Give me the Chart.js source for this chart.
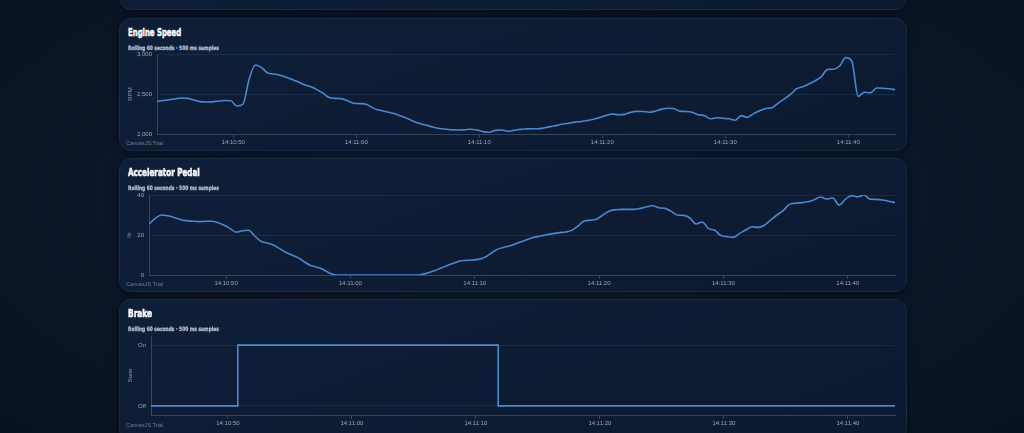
<!DOCTYPE html>
<html>
<head>
<meta charset="utf-8">
<script src="https://cdn.jsdelivr.net/npm/chart.js@4.4.1/dist/chart.umd.min.js"></script>
<style>
  html, body { margin: 0; padding: 0; }
  body {
    width: 1024px; height: 433px; overflow: hidden; position: relative;
    background: radial-gradient(ellipse at 50% 45%, #0f1d33 0%, #0b1628 55%, #08111f 100%);
    font-family: "Liberation Sans", Arial, sans-serif;
  }
  .card {
    position: absolute; left: 119px; width: 786px;
    background: linear-gradient(160deg, #0f1f38 0%, #0c1a30 100%);
    border: 1px solid #1a2a43; border-radius: 12px;
    box-shadow: 0 2px 8px rgba(0,0,0,0.35);
  }
  .card canvas { position: absolute; left: -1px; top: -1px; }
  .title {
    position: absolute; left: 8px; top: 7px; color: #f2f5fa;
    font-family: "Liberation Sans Narrow", "DejaVu Sans", sans-serif;
    font-stretch: condensed; font-weight: 900; font-size: 11px;
    -webkit-text-stroke: 0.6px #f2f5fa;
    transform-origin: 0 0; white-space: nowrap;
  }
  .sub {
    position: absolute; left: 8px; top: 25px; color: #b7c3d4;
    font-family: "Liberation Sans Narrow", "DejaVu Sans", sans-serif;
    font-stretch: condensed; font-weight: 700; font-size: 6px;
    -webkit-text-stroke: 0.25px #b7c3d4;
    transform-origin: 0 0; white-space: nowrap;
  }
  .trial {
    position: absolute; left: 6px; color: #6f7d92; font-size: 5.5px;
    white-space: nowrap;
  }
</style>
</head>
<body>
<div class="card" style="top:-120px;height:128px"></div>

<div class="card" style="top:18px;height:131px">
  <div class="title">Engine Speed</div>
  <div class="sub">Rolling 60 seconds · 500 ms samples</div>
  <div class="trial" style="top:121px">CanvasJS Trial</div>
  <canvas id="engineChart" width="788" height="132"></canvas>
</div>

<div class="card" style="top:158px;height:132px">
  <div class="title">Accelerator Pedal</div>
  <div class="sub">Rolling 60 seconds · 500 ms samples</div>
  <div class="trial" style="top:122px">CanvasJS Trial</div>
  <canvas id="accelChart" width="788" height="133"></canvas>
</div>

<div class="card" style="top:299px;height:140px">
  <div class="title">Brake</div>
  <div class="sub">Rolling 60 seconds · 500 ms samples</div>
  <div class="trial" style="top:122px">CanvasJS Trial</div>
  <canvas id="brakeChart" width="788" height="133"></canvas>
</div>

<script>
// sample timestamps: seconds after 14:10:00, one sample every 500 ms
const sampleStart = 43.8;
const sampleStep = 0.5;
const timeTicks = [50, 60, 70, 80, 90, 100];

const engineRpm = [
  2408, 2418, 2428, 2440, 2450, 2445, 2425, 2405, 2400, 2402,
  2412, 2418, 2415, 2350, 2375, 2690, 2862, 2830, 2762, 2750,
  2735, 2710, 2682, 2650, 2615, 2590, 2555, 2510, 2455, 2445,
  2442, 2415, 2385, 2380, 2372, 2330, 2300, 2285, 2265, 2245,
  2215, 2185, 2150, 2125, 2105, 2085, 2068, 2060, 2052, 2050,
  2052, 2060, 2050, 2030, 2022, 2045, 2050, 2035, 2045, 2058,
  2063, 2066, 2066, 2078, 2092, 2108, 2124, 2136, 2148, 2157,
  2168, 2185, 2205, 2230, 2250, 2240, 2245, 2270, 2283, 2282,
  2272, 2285, 2308, 2322, 2318, 2285, 2282, 2272, 2241, 2230,
  2190, 2204, 2196, 2190, 2172, 2230, 2210, 2255, 2290, 2318,
  2328, 2387, 2440, 2495, 2565, 2590, 2625, 2665, 2715, 2805,
  2810, 2850, 2955, 2908, 2470, 2522, 2515, 2575, 2572, 2565,
  2554
];

const acceleratorPct = [
  25.5, 28.3, 30.0, 29.6, 28.8, 27.8, 27.2, 26.9, 26.7, 26.8,
  26.9, 26.3, 25.0, 23.3, 21.4, 22.1, 22.4, 19.5, 16.9, 16.0,
  15.0, 13.2, 11.4, 10.0, 8.7, 6.5, 4.8, 3.9, 2.8, 1.0,
  0, 0, 0, 0, 0, 0, 0, 0, 0, 0,
  0, 0, 0, 0, 0.3, 1.2, 2.2, 3.5, 4.8, 5.9,
  7.0, 7.3, 7.5, 7.8, 8.8, 10.8, 12.8, 13.8, 14.5, 15.6,
  16.8, 17.9, 18.9, 19.5, 20.1, 20.7, 21.2, 21.5, 22.3, 24.5,
  27.0, 27.4, 27.9, 30.0, 31.9, 32.6, 32.8, 32.8, 32.8, 33.3,
  34.0, 34.6, 33.6, 33.3, 31.8, 30.0, 29.8, 28.5, 25.5, 26.5,
  23.2, 22.4, 19.7, 19.2, 18.8, 20.8, 22.5, 24.1, 23.8, 24.9,
  27.5, 30.0, 32.2, 35.3, 35.9, 36.2, 36.6, 37.6, 39.0, 38.0,
  38.5, 35.0, 37.8, 39.7, 39.1, 40.0, 37.9, 37.8, 37.5, 36.9,
  36.2
];

// 0 = Off, 1 = On
const brakeState = [
  0, 0, 0, 0, 0, 0, 0, 0, 0, 0,
  0, 0, 0, 0, 1, 1, 1, 1, 1, 1,
  1, 1, 1, 1, 1, 1, 1, 1, 1, 1,
  1, 1, 1, 1, 1, 1, 1, 1, 1, 1,
  1, 1, 1, 1, 1, 1, 1, 1, 1, 1,
  1, 1, 1, 1, 1, 1, 0, 0, 0, 0,
  0, 0, 0, 0, 0, 0, 0, 0, 0, 0,
  0, 0, 0, 0, 0, 0, 0, 0, 0, 0,
  0, 0, 0, 0, 0, 0, 0, 0, 0, 0,
  0, 0, 0, 0, 0, 0, 0, 0, 0, 0,
  0, 0, 0, 0, 0, 0, 0, 0, 0, 0,
  0, 0, 0, 0, 0, 0, 0, 0, 0, 0,
  0
];
const brakeLabels = ['Off', 'On'];

const lineColor = '#4a88cf';
const gridColor = 'rgba(70, 100, 140, 0.22)';
const axisColor = '#34465f';
const tickColor = '#9aa7b8';

function toPoints(values) {
  return values.map((v, i) => ({ x: sampleStart + i * sampleStep, y: v }));
}

function clock(v) {
  const mins = 10 + Math.floor(v / 60);
  const secs = Math.round(v % 60);
  return '14:' + String(mins).padStart(2, '0') + ':' + String(secs).padStart(2, '0');
}

function makeChart(id, values, o) {
  const ctx = document.getElementById(id).getContext('2d');
  return new Chart(ctx, {
    type: 'line',
    data: {
      datasets: [{
        data: toPoints(values),
        borderColor: lineColor,
        borderWidth: 1.6,
        pointRadius: 0,
        fill: false,
        stepped: o.stepped || false,
        cubicInterpolationMode: o.stepped ? 'default' : 'monotone'
      }]
    },
    options: {
      responsive: false,
      animation: false,
      events: [],
      layout: { padding: { left: 0, top: o.top, right: 12, bottom: 0 } },
      plugins: { legend: { display: false }, tooltip: { enabled: false } },
      scales: {
        x: {
          type: 'linear',
          min: sampleStart,
          max: sampleStart + (values.length - 1) * sampleStep,
          afterBuildTicks: s => { s.ticks = timeTicks.map(v => ({ value: v })); },
          afterFit: s => { s.height = o.xHeight; },
          border: { color: axisColor, width: 1 },
          grid: { drawOnChartArea: false, drawTicks: true, tickLength: 4, tickColor: axisColor },
          ticks: {
            color: tickColor, padding: 1, maxRotation: 0, autoSkip: false,
            font: { family: 'Liberation Sans', size: 6 },
            callback: v => clock(v)
          }
        },
        y: {
          min: o.min, max: o.max,
          afterBuildTicks: s => { s.ticks = o.ticks.map(v => ({ value: v })); },
          afterFit: s => { s.width = o.yWidth; },
          border: { color: axisColor, width: 1 },
          grid: { color: gridColor, drawTicks: false, lineWidth: 1 },
          ticks: {
            color: tickColor, padding: 5,
            font: { family: 'Liberation Sans', size: 6 },
            callback: o.label
          },
          title: {
            display: true, text: o.title, color: '#8c99ab',
            padding: { top: o.titlePad, bottom: 0 },
            font: { family: 'Liberation Sans', size: 6 }
          }
        }
      }
    }
  });
}

makeChart('engineChart', engineRpm, {
  top: 36, xHeight: 16, yWidth: 38, min: 2000, max: 3000,
  ticks: [2000, 2500, 3000], title: 'RPM', titlePad: 8,
  label: v => v.toLocaleString('en-US')
});

makeChart('accelChart', acceleratorPct, {
  top: 37, xHeight: 16, yWidth: 30, min: 0, max: 40,
  ticks: [0, 20, 40], title: '%', titlePad: 6.5,
  label: v => String(v)
});

makeChart('brakeChart', brakeState, {
  top: 37, xHeight: 17, yWidth: 32, min: -0.15, max: 1.15,
  ticks: [0, 1], title: 'State', titlePad: 8, stepped: true,
  label: v => brakeLabels[v]
});

// squeeze the heading fonts to the narrow look of the original
const titleWidths = { 'Engine Speed': 53, 'Accelerator Pedal': 72, 'Brake': 24 };
document.querySelectorAll('.title').forEach(el => {
  const w = titleWidths[el.textContent];
  el.style.transform = 'scaleX(' + (w / el.offsetWidth) + ')';
});
document.querySelectorAll('.sub').forEach(el => {
  el.style.transform = 'scaleX(' + (91 / el.offsetWidth) + ')';
});
</script>
</body>
</html>
